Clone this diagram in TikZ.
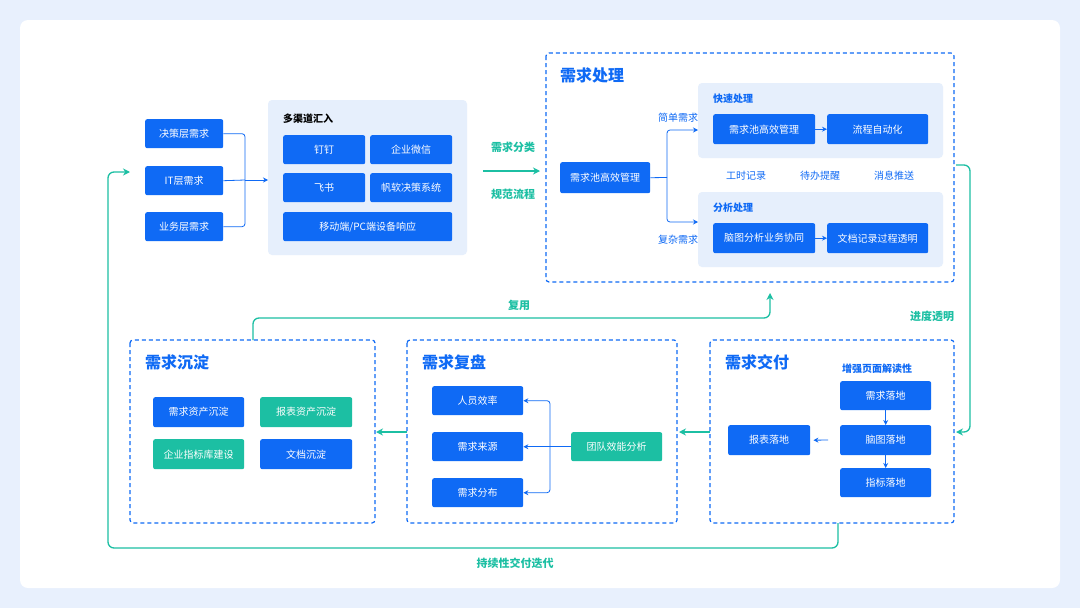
\documentclass[tikz,border=0pt]{standalone}
\usepackage{fontspec}
\setmainfont{Noto Sans CJK SC}
\usetikzlibrary{arrows.meta,positioning}
\definecolor{fblue}{HTML}{0F6AF5}
\definecolor{fteal}{HTML}{1CBFA3}
\definecolor{fpanel}{HTML}{E6EFFC}
\definecolor{fbg}{HTML}{E8F0FD}
\tikzset{
  box/.style={draw=none,fill=fblue,text=white,rounded corners=2pt,inner sep=0pt,font=\fontsize{10}{12}\selectfont},
  tbox/.style={box,fill=fteal},
  panel/.style={fill=fpanel,rounded corners=4pt},
  frame/.style={draw=fblue,dashed,line width=1.2pt,dash pattern=on 4pt off 3pt,rounded corners=3pt},
  title/.style={text=fblue,font=\fontsize{16}{18}\selectfont\bfseries,anchor=west,inner sep=0pt},
  small/.style={font=\fontsize{10}{12}\selectfont,inner sep=0pt},
  tlab/.style={small,text=fteal,font=\fontsize{11}{13}\selectfont\bfseries},
  arr/.style={-{Stealth[length=5pt,width=5pt]},fblue,line width=0.8pt},
  tarr/.style={-{Stealth[length=7pt,width=7pt]},fteal,line width=1.3pt,rounded corners=6pt}
}
\newcommand{\bx}[6][box]{\node[#1,minimum width=#4pt,minimum height=#5pt,anchor=north west] (#2) at #3 {#6};}
\begin{document}
\begin{tikzpicture}[x=1pt,y=1pt,yscale=-1]
\useasboundingbox (0,0) rectangle (1080,608);
\fill[fbg] (0,0) rectangle (1080,608);
\fill[white,rounded corners=8pt] (20,20) rectangle (1060,588);
% inputs
\bx{inA}{(145,119)}{78}{29}{决策层需求}
\bx{inB}{(145,166)}{78}{29}{IT层需求}
\bx{inC}{(145,212)}{78}{29}{业务层需求}
\fill[panel] (268,100) rectangle (467,255);
\node[small,anchor=west,font=\fontsize{10}{12}\selectfont\bfseries] (multi) at (283,119) {多渠道汇入};
\bx{chA}{(283,135)}{82}{29}{钉钉}
\bx{chB}{(370,135)}{82}{29}{企业微信}
\bx{chC}{(283,173)}{82}{29}{飞书}
\bx{chD}{(370,173)}{82}{29}{帆软决策系统}
\bx{chE}{(283,212)}{169}{29}{移动端/PC端设备响应}
\coordinate (join) at (245,180);
\coordinate (pin) at (268,180);
\draw[fblue,line width=0.8pt,rounded corners=3pt] (inA.east) -| (join) |- (inC.east);
\draw[fblue,line width=0.8pt] (inB.east) -- (join);
\draw[arr] (join) -- (pin);
% classification arrow
\coordinate (cA) at (483,171);
\coordinate (cB) at (540,171);
\draw[tarr] (cA) -- (cB);
\node[tlab] (lblA) at (513,147) {需求分类};
\node[tlab] (lblB) at (513,194) {规范流程};
% processing
\draw[frame] (546,53) rectangle (954,282);
\node[title] (tProc) at (560,75) {需求处理};
\bx{pool}{(560,162)}{90}{31}{需求池高效管理}
\fill[panel] (698,83) rectangle (943,158);
\fill[panel] (698,192) rectangle (943,267);
\node[small,anchor=west,text=fblue,font=\fontsize{10}{12}\selectfont\bfseries] (tFast) at (713,99) {快速处理};
\node[small,anchor=west,text=fblue,font=\fontsize{10}{12}\selectfont\bfseries] (tAna) at (713,208) {分析处理};
\bx{fA}{(713,114)}{102}{30}{需求池高效管理}
\bx{fB}{(827,114)}{101}{30}{流程自动化}
\bx{aA}{(713,223)}{102}{30}{脑图分析业务协同}
\bx{aB}{(827,223)}{101}{30}{文档记录过程透明}
\draw[arr] (fA) -- (fB);
\draw[arr] (aA) -- (aB);
\coordinate (fin) at (698,130);
\coordinate (ain) at (698,222);
\draw[fblue,line width=0.8pt] (pool.east) -- (667,177.5);
\draw[arr,rounded corners=3pt] (667,177.5) |- (fin);
\draw[arr,rounded corners=3pt] (667,177.5) |- (ain);
\node[small,text=fblue] (simple) at (678,118) {简单需求};
\node[small,text=fblue] (complex) at (678,240) {复杂需求};
\node[small,text=fblue] (nA) at (746,176) {工时记录};
\node[small,text=fblue] (nB) at (820,176) {待办提醒};
\node[small,text=fblue] (nC) at (894,176) {消息推送};
% delivery
\coordinate (pOut) at (956,165);
\coordinate (dIn) at (956,432);
\draw[tarr] (pOut) -- (970,165) -- (970,432) -- (dIn);
\node[tlab] (lblC) at (932,316) {进度透明};
\draw[frame] (710,340) rectangle (954,523);
\node[title] (tDel) at (725,362) {需求交付};
\node[small,text=fblue,font=\fontsize{10}{12}\selectfont\bfseries] (tRead) at (877,369) {增强页面解读性};
\bx{dA}{(840,381)}{91}{29}{需求落地}
\bx{dB}{(840,425)}{91}{30}{脑图落地}
\bx{dC}{(840,468)}{91}{29}{指标落地}
\bx{dR}{(728,425)}{82}{30}{报表落地}
\draw[arr] (dA) -- (dB);
\draw[arr] (dB) -- (dC);
\coordinate (dRa) at (828,440);
\draw[arr] (dRa) -- ([xshift=3pt]dR.east);
\draw[tarr] (710,432) -- (679,432);
% review
\draw[frame] (407,340) rectangle (677,523);
\node[title] (tRev) at (422,362) {需求复盘};
\bx{rA}{(432,386)}{91}{29}{人员效率}
\bx{rB}{(432,432)}{91}{29}{需求来源}
\bx{rC}{(432,478)}{91}{29}{需求分布}
\bx[tbox]{team}{(571,432)}{91}{29}{团队效能分析}
\draw[arr] (team) -- (rB);
\draw[arr,rounded corners=3pt] (550,446.5) |- (rA.east);
\draw[arr,rounded corners=3pt] (550,446.5) |- (rC.east);
\draw[tarr] (407,432) -- (376,432);
% settle
\draw[frame] (130,340) rectangle (375,523);
\node[title] (tSet) at (145,362) {需求沉淀};
\bx{sA}{(153,397)}{91}{30}{需求资产沉淀}
\bx[tbox]{sB}{(260,397)}{92}{30}{报表资产沉淀}
\bx[tbox]{sC}{(153,439)}{91}{30}{企业指标库建设}
\bx{sD}{(260,439)}{92}{30}{文档沉淀}
% reuse and loop
\coordinate (rU) at (253,340);
\coordinate (rT) at (770,293);
\draw[tarr] (rU) -- (253,318) -- (770,318) -- (rT);
\node[tlab] (lblD) at (519,305) {复用};
\coordinate (lS) at (838,523);
\coordinate (lE) at (130,172);
\draw[tarr] (lS) -- (838,548) -- (108,548) -- (108,172) -- (lE);
\node[tlab] (lblE) at (515,563) {持续性交付迭代};
\end{tikzpicture}
\end{document}
